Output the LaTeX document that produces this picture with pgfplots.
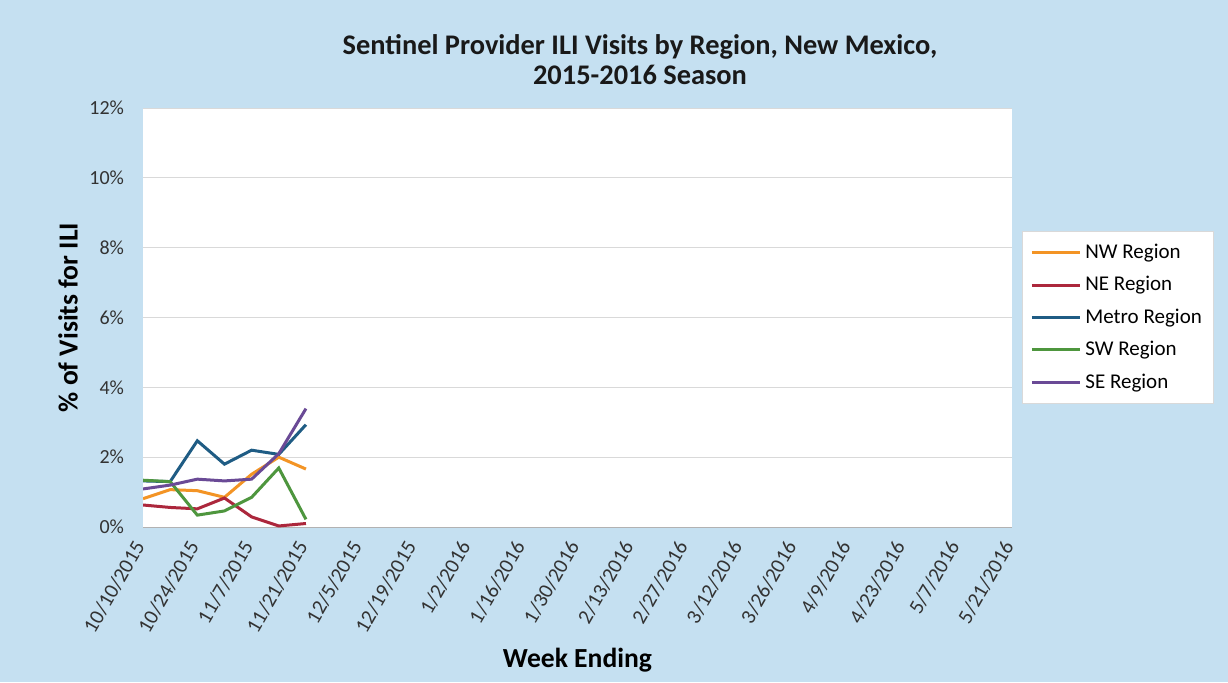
\documentclass[border=0pt]{standalone}
\usepackage{pgfplots}
\pgfplotsset{compat=1.18}
\usepackage{fontspec}
\setmainfont{Carlito}
\definecolor{bg}{HTML}{C5E0F1}
\definecolor{cNW}{HTML}{F39425}
\definecolor{cNE}{HTML}{AC273C}
\definecolor{cMetro}{HTML}{1F5C84}
\definecolor{cSW}{HTML}{4E963E}
\definecolor{cSE}{HTML}{6A4A96}
\definecolor{txt}{HTML}{333333}
\begin{document}
\begin{tikzpicture}
\useasboundingbox (0,0) rectangle (614pt,341pt);
\fill[bg] (0,0) rectangle (614pt,341pt);
\node[font=\bfseries\fontsize{14.2}{15}\selectfont, align=center, text=black!90] at (320pt,311pt) {Sentinel Provider ILI Visits by Region, New Mexico,\\2015-2016 Season};
\begin{axis}[
  at={(71.5pt,77.5pt)}, anchor=south west,
  scale only axis, width=434.5pt, height=209.5pt,
  xmin=0, xmax=32, ymin=0, ymax=12,
  axis background/.style={fill=white},
  axis x line=bottom, axis y line=left,
  x axis line style={-, draw=gray!60},
  y axis line style={draw=none},
  major tick length=0pt,
  ymajorgrids, grid style={gray!30},
  ytick={0,2,...,12},
  yticklabels={0\%,2\%,4\%,6\%,8\%,10\%,12\%},
  xtick={0,2,...,32},
  xticklabels={10/10/2015,10/24/2015,11/7/2015,11/21/2015,12/5/2015,12/19/2015,1/2/2016,1/16/2016,1/30/2016,2/13/2016,2/27/2016,3/12/2016,3/26/2016,4/9/2016,4/23/2016,5/7/2016,5/21/2016},
  xticklabel style={rotate=60, anchor=east, font=\fontsize{10.5}{12}\selectfont, text=txt},
  xticklabel shift=5pt,
  yticklabel style={font=\fontsize{10}{12}\selectfont, text=txt, xshift=-6pt},
  xlabel={Week Ending},
  xlabel style={at={(axis description cs:0.5,-0.3174)}, anchor=center, font=\bfseries\fontsize{13.8}{15}\selectfont},
  ylabel={\% of Visits for ILI},
  ylabel style={at={(axis description cs:-0.0863,0.5)}, anchor=center, font=\bfseries\fontsize{13.8}{15}\selectfont},
  legend style={at={(1,0.5)}, anchor=west, xshift=5pt, fill=white, draw=gray!30, font=\fontsize{10.5}{12}\selectfont, row sep=3.5pt, inner xsep=4pt, inner ysep=4pt},
  legend cell align=left,
  legend image code/.code={\draw[#1] (0pt,0pt) -- (24pt,0pt);},
  every axis plot/.append style={line width=1.5pt, no marks},
]
\addplot[cNW] coordinates {(0,0.81) (1,1.07) (2,1.04) (3,0.85) (4,1.51) (5,2.00) (6,1.66)};
\addlegendentry{NW Region}
\addplot[cNE] coordinates {(0,0.63) (1,0.56) (2,0.52) (3,0.83) (4,0.29) (5,0.03) (6,0.10)};
\addlegendentry{NE Region}
\addplot[cMetro] coordinates {(0,1.32) (1,1.30) (2,2.47) (3,1.80) (4,2.20) (5,2.08) (6,2.93)};
\addlegendentry{Metro Region}
\addplot[cSW] coordinates {(0,1.34) (1,1.30) (2,0.34) (3,0.46) (4,0.85) (5,1.69) (6,0.22)};
\addlegendentry{SW Region}
\addplot[cSE] coordinates {(0,1.09) (1,1.20) (2,1.37) (3,1.32) (4,1.37) (5,2.10) (6,3.39)};
\addlegendentry{SE Region}
\end{axis}
\end{tikzpicture}
\end{document}
